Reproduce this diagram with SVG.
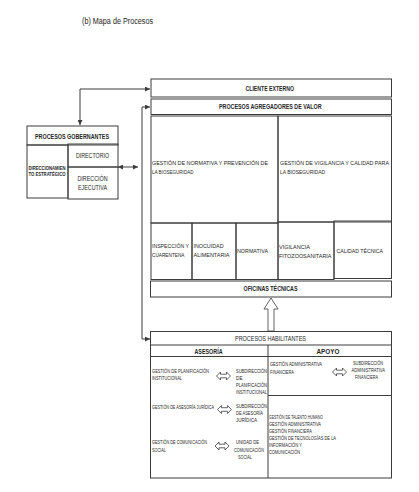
<svg xmlns="http://www.w3.org/2000/svg" width="419" height="492" viewBox="0 0 419 492">
<style>
text{font-family:"Liberation Sans",Arial,sans-serif;fill:#262626}
.box{fill:none;stroke:#3c3c3c;stroke-width:1}
.b{font-weight:bold}
.h{font-size:6.5px}
.m{font-size:6.2px}
.s{font-size:5.1px}
.ln{fill:none;stroke:#3c3c3c;stroke-width:1}
.hol{fill:#fff;stroke:#3c3c3c;stroke-width:0.8}
</style>
<defs>
<marker id="arr" viewBox="0 0 6 6" markerWidth="6" markerHeight="5" refX="6" refY="3" orient="auto-start-reverse" markerUnits="userSpaceOnUse">
<path d="M0,0 L6,3 L0,6 Z" fill="#3c3c3c"/>
</marker>
<path id="dbl" d="M-7,0 L-3,-4 L-3,-1.8 L3,-1.8 L3,-4 L7,0 L3,4 L3,1.8 L-3,1.8 L-3,4 Z"/>
</defs>
<rect width="419" height="492" fill="#fff"/>
<text x="82" y="24" font-size="8.5" textLength="71" lengthAdjust="spacingAndGlyphs">(b) Mapa de Procesos</text>

<g id="connectors">
<path class="ln" d="M80,125 V89 H150" marker-start="url(#arr)" marker-end="url(#arr)"/>
<path class="ln" d="M150,107 H142 V339 H150" marker-start="url(#arr)" marker-end="url(#arr)"/>
<path class="ln" d="M118,167 H138" marker-start="url(#arr)" marker-end="url(#arr)"/>
<polygon class="hol" points="268,331 268,309 264,309 271,298 278,309 274,309 274,331"/>
</g>

<g id="cliente-externo">
<rect class="box" x="151" y="79" width="240.5" height="18"/>
<text class="h b" x="245.5" y="90.5" textLength="48.5" lengthAdjust="spacingAndGlyphs">CLIENTE EXTERNO</text>
</g>
<g id="procesos-agregadores">
<rect class="box" x="151" y="99" width="240.5" height="15.5"/>
<text class="h b" x="219" y="108.8" textLength="102.5" lengthAdjust="spacingAndGlyphs">PROCESOS AGREGADORES DE VALOR</text>
</g>
<g id="gestion-normativa">
<rect class="box" x="151" y="116" width="127" height="107"/>
<text class="m" x="152" y="165" textLength="116" lengthAdjust="spacingAndGlyphs">GESTIÓN DE  NORMATIVA Y PREVENCIÓN DE</text>
<text class="m" x="152" y="174" textLength="41.5" lengthAdjust="spacingAndGlyphs">LA BIOSEGURIDAD</text>
</g>
<g id="gestion-vigilancia">
<rect class="box" x="278" y="116" width="113.5" height="106"/>
<text class="m" x="280" y="165" textLength="109" lengthAdjust="spacingAndGlyphs">GESTIÓN DE VIGILANCIA Y CALIDAD PARA</text>
<text class="m" x="280" y="174" textLength="45" lengthAdjust="spacingAndGlyphs">LA BIOSEGURIDAD</text>
</g>
<g id="inspeccion">
<rect class="box" x="151" y="223" width="41" height="56.5"/>
<text class="m" x="152" y="248" textLength="37" lengthAdjust="spacingAndGlyphs">INSPECCIÓN Y</text>
<text class="m" x="152" y="257" textLength="32.5" lengthAdjust="spacingAndGlyphs">CUARENTENA</text>
</g>
<g id="inocuidad">
<rect class="box" x="192" y="223" width="44" height="56.5"/>
<text class="m" x="193.5" y="248" textLength="30" lengthAdjust="spacingAndGlyphs">INOCUIDAD</text>
<text class="m" x="193.5" y="257" textLength="36" lengthAdjust="spacingAndGlyphs">ALIMENTARIA</text>
</g>
<g id="normativa">
<rect class="box" x="236" y="223" width="42" height="56.5"/>
<text class="m" x="237" y="253" textLength="31" lengthAdjust="spacingAndGlyphs">NORMATIVA</text>
</g>
<g id="vigilancia">
<rect class="box" x="278" y="222" width="56" height="57.5"/>
<text class="m" x="279" y="249" textLength="31" lengthAdjust="spacingAndGlyphs">VIGILANCIA</text>
<text class="m" x="279" y="258" textLength="52.5" lengthAdjust="spacingAndGlyphs">FITOZOOSANITARIA</text>
</g>
<g id="calidad-tecnica">
<rect class="box" x="334" y="221" width="57.5" height="57.5"/>
<text class="m" x="336.5" y="253" textLength="46.5" lengthAdjust="spacingAndGlyphs">CALIDAD TÉCNICA</text>
</g>
<g id="oficinas-tecnicas">
<rect class="box" x="150.5" y="281" width="241" height="16"/>
<text class="h b" x="243.5" y="290.5" textLength="54" lengthAdjust="spacingAndGlyphs">OFICINAS TÉCNICAS</text>
</g>

<g id="procesos-gobernantes">
<rect class="box" x="27" y="126" width="91" height="19"/>
<text class="b" font-size="7.2" x="35" y="138.5" textLength="74" lengthAdjust="spacingAndGlyphs">PROCESOS GOBERNANTES</text>
</g>
<g id="direccionamiento">
<rect class="box" x="27" y="145" width="41" height="53"/>
<text class="b" font-size="5.2" x="28.5" y="169.5" textLength="37" lengthAdjust="spacingAndGlyphs">DIRECCIONAMIEN</text>
<text class="b" font-size="5.2" x="28.5" y="176" textLength="37" lengthAdjust="spacingAndGlyphs">TO ESTRATÉGICO</text>
</g>
<g id="directorio">
<rect class="box" x="68" y="144" width="50" height="23"/>
<text font-size="7.5" x="76" y="157.5" textLength="33" lengthAdjust="spacingAndGlyphs">DIRECTORIO</text>
</g>
<g id="direccion-ejecutiva">
<rect class="box" x="68" y="167" width="50" height="32"/>
<text font-size="7.5" x="77.5" y="180.5" textLength="30" lengthAdjust="spacingAndGlyphs">DIRECCIÓN</text>
<text font-size="7.5" x="78" y="189.5" textLength="29" lengthAdjust="spacingAndGlyphs">EJECUTIVA</text>
</g>

<g id="procesos-habilitantes">
<rect class="box" x="150.5" y="331.5" width="241" height="146.5"/>
<line class="ln" x1="150.5" y1="345" x2="391.5" y2="345"/>
<line class="ln" x1="150.5" y1="356.5" x2="391.5" y2="356.5"/>
<line class="ln" x1="268" y1="345" x2="268" y2="478"/>
<text font-size="6.8" x="235" y="340.8" textLength="71" lengthAdjust="spacingAndGlyphs">PROCESOS HABILITANTES</text>
</g>
<g id="asesoria">
<text class="h b" x="194.5" y="353.5" textLength="28" lengthAdjust="spacingAndGlyphs">ASESORÍA</text>
<text class="s" x="152" y="372.5" textLength="57" lengthAdjust="spacingAndGlyphs">GESTIÓN DE PLANIFICACIÓN</text>
<text class="s" x="152" y="379.5" textLength="30" lengthAdjust="spacingAndGlyphs">INSTITUCIONAL</text>
<use href="#dbl" class="hol" transform="translate(223.5,376)"/>
<text class="s" x="236" y="372.5" textLength="31" lengthAdjust="spacingAndGlyphs">SUBDIRECCIÓN</text>
<text class="s" x="236" y="379.5" textLength="6.5" lengthAdjust="spacingAndGlyphs">DE</text>
<text class="s" x="236" y="386.5" textLength="31" lengthAdjust="spacingAndGlyphs">PLANIFICACIÓN</text>
<text class="s" x="236" y="393.5" textLength="31" lengthAdjust="spacingAndGlyphs">INSTITUCIONAL</text>
<text class="s" x="152" y="408.5" textLength="62" lengthAdjust="spacingAndGlyphs">GESTIÓN DE ASESORÍA JURÍDICA</text>
<use href="#dbl" class="hol" transform="translate(224.5,409.5)"/>
<text class="s" x="236" y="408" textLength="31" lengthAdjust="spacingAndGlyphs">SUBDIRECCIÓN</text>
<text class="s" x="236" y="415" textLength="27" lengthAdjust="spacingAndGlyphs">DE ASESORÍA</text>
<text class="s" x="236" y="422" textLength="21" lengthAdjust="spacingAndGlyphs">JURÍDICA</text>
<text class="s" x="152" y="444" textLength="55" lengthAdjust="spacingAndGlyphs">GESTIÓN DE COMUNICACIÓN</text>
<text class="s" x="152" y="451.5" textLength="14" lengthAdjust="spacingAndGlyphs">SOCIAL</text>
<use href="#dbl" class="hol" transform="translate(222,446)"/>
<text class="s" x="236" y="444" textLength="23" lengthAdjust="spacingAndGlyphs">UNIDAD DE</text>
<text class="s" x="234" y="451.5" textLength="30" lengthAdjust="spacingAndGlyphs">COMUNICACIÓN</text>
<text class="s" x="238" y="459" textLength="14" lengthAdjust="spacingAndGlyphs">SOCIAL</text>
</g>
<g id="apoyo">
<text class="h b" x="316.5" y="353.5" textLength="23" lengthAdjust="spacingAndGlyphs">APOYO</text>
<line class="ln" x1="268" y1="395.5" x2="391.5" y2="395.5" stroke-width="1.4"/>
<text class="s" x="270" y="365.5" textLength="52" lengthAdjust="spacingAndGlyphs">GESTIÓN ADMINISTRATIVA</text>
<text class="s" x="270" y="373.5" textLength="24" lengthAdjust="spacingAndGlyphs">FINANCIERA</text>
<use href="#dbl" class="hol" transform="translate(339.5,372)"/>
<text class="s" x="353" y="365" textLength="30" lengthAdjust="spacingAndGlyphs">SUBDIRECCIÓN</text>
<text class="s" x="351.5" y="372" textLength="33.5" lengthAdjust="spacingAndGlyphs">ADMINISTRATIVA</text>
<text class="s" x="355" y="379" textLength="23" lengthAdjust="spacingAndGlyphs">FINANCIERA</text>
<text class="s" x="269" y="419" textLength="54" lengthAdjust="spacingAndGlyphs">GESTIÓN DE TALENTO HUMANO</text>
<text class="s" x="269" y="426" textLength="52" lengthAdjust="spacingAndGlyphs">GESTIÓN ADMINISTRATIVA</text>
<text class="s" x="269" y="433" textLength="43" lengthAdjust="spacingAndGlyphs">GESTIÓN FINANCIERA</text>
<text class="s" x="269" y="440" textLength="67" lengthAdjust="spacingAndGlyphs">GESTIÓN DE TECNOLOGÍAS DE LA</text>
<text class="s" x="269" y="447" textLength="33" lengthAdjust="spacingAndGlyphs">INFORMACIÓN Y</text>
<text class="s" x="269" y="454" textLength="31" lengthAdjust="spacingAndGlyphs">COMUNICACIÓN</text>
</g>
</svg>
